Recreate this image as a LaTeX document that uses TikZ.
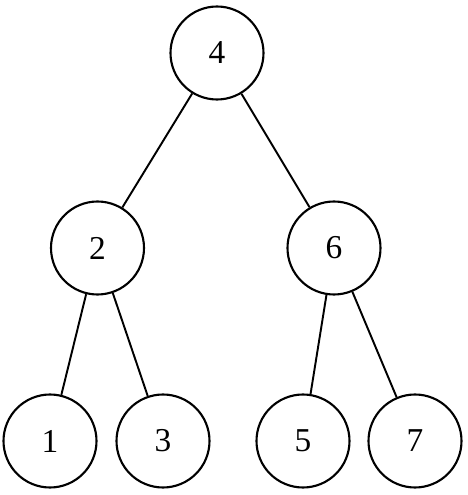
\documentclass[tikz,border=0pt]{standalone}
\usepackage{fontspec}
\setmainfont{Liberation Serif}
\usepackage{tikz}

\begin{document}
\begin{tikzpicture}[
  font=\fontsize{19}{22}\selectfont,
  vert/.style={circle, draw=black, line width=1.2pt, fill=white,
    minimum size=1.86cm, inner sep=0pt},
  edge/.style={draw=black, line width=1.1pt}
]
\useasboundingbox (0,0) rectangle (9.36,9.9);

\node[vert] (n4) at (4.34,8.84) {4};
\node[vert] (n2) at (1.95,4.94) {2};
\node[vert] (n6) at (6.68,4.94) {6};
\node[vert] (n1) at (1.00,1.08) {1};
\node[vert] (n3) at (3.26,1.08) {3};
\node[vert] (n5) at (6.06,1.08) {5};
\node[vert] (n7) at (8.30,1.08) {7};

\draw[edge] (n4) -- (n2);
\draw[edge] (n4) -- (n6);
\draw[edge] (n2) -- (n1);
\draw[edge] (n2) -- (n3);
\draw[edge] (n6) -- (n5);
\draw[edge] (n6) -- (n7);

\end{tikzpicture}
\end{document}
